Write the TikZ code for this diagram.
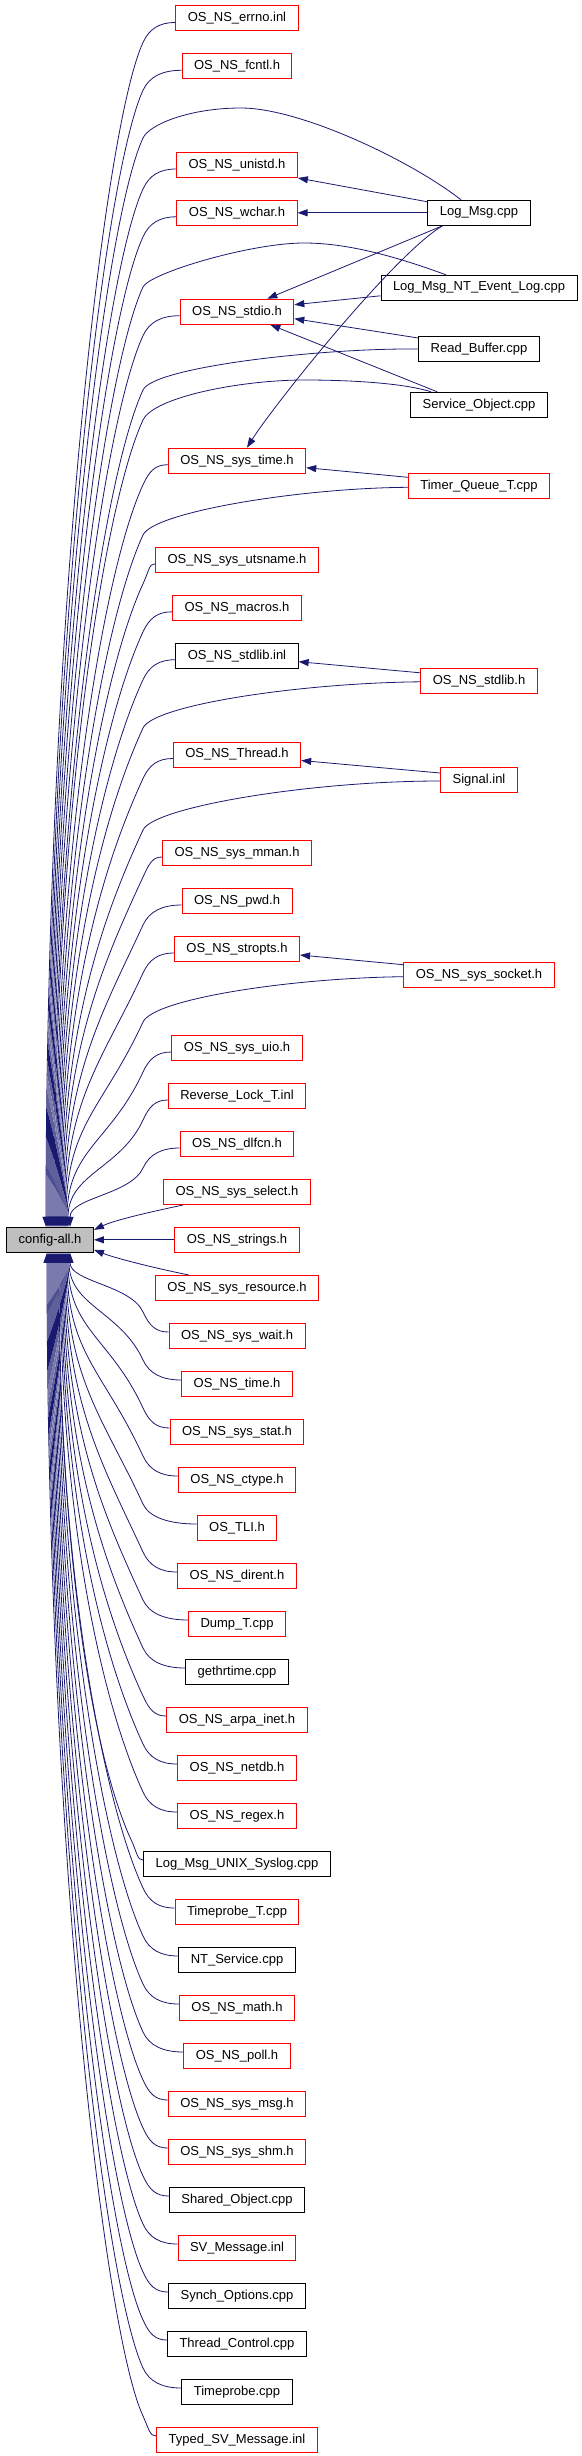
\documentclass[tikz,border=0pt]{standalone}
\usepackage{fontspec}
\setmainfont{Liberation Sans}
\usetikzlibrary{arrows.meta}

\definecolor{linkblue}{HTML}{191970}
\definecolor{boxred}{HTML}{FF0000}
\definecolor{rootgray}{HTML}{BFBFBF}

\tikzset{
  filebox/.style={draw=black, line width=1pt, minimum height=25pt, inner xsep=12pt, inner ysep=0pt,
    font=\fontsize{13}{13}\selectfont},
  docbox/.style={filebox, draw=boxred},
  rootbox/.style={filebox, fill=rootgray},
  incl/.style={draw=linkblue, line width=0.8pt, -{Triangle[length=10pt,width=7pt]}},
}

\begin{document}
\begin{tikzpicture}[x=1pt,y=-1pt]
  \useasboundingbox (0,0) rectangle (581,2456);

  \node[rootbox] (cfg) at (50,1239.8) {config-all.h};

  % headers above config-all.h
  \foreach \n/\yy/\st/\txt/\endx in {
      errno/18.5/docbox/{OS\_NS\_errno.inl}/46,
      fcntl/66.3/docbox/{OS\_NS\_fcntl.h}/47,
      unistd/165/docbox/{OS\_NS\_unistd.h}/49,
      wchar/212.8/docbox/{OS\_NS\_wchar.h}/50,
      stdio/311.7/docbox/{OS\_NS\_stdio.h}/52,
      systime/460.7/docbox/{OS\_NS\_sys\_time.h}/55,
      utsname/559.8/docbox/{OS\_NS\_sys\_utsname.h}/57,
      macros/607.8/docbox/{OS\_NS\_macros.h}/58,
      stdlibinl/655.7/filebox/{OS\_NS\_stdlib.inl}/59,
      thread/754.5/docbox/{OS\_NS\_Thread.h}/61,
      mman/853/docbox/{OS\_NS\_sys\_mman.h}/63,
      pwd/901/docbox/{OS\_NS\_pwd.h}/64,
      stropts/949/docbox/{OS\_NS\_stropts.h}/65,
      uio/1048/docbox/{OS\_NS\_sys\_uio.h}/67,
      revlock/1096/docbox/{Reverse\_Lock\_T.inl}/68,
      dlfcn/1144/docbox/{OS\_NS\_dlfcn.h}/70}{
    \node[\st] (\n) at (237,\yy) {\txt};
    \path (\n.west); \pgfgetlastxy{\wx}{\wy}
    \pgfmathsetmacro\ax{\wx}
    \pgfmathsetmacro\kx{min(143,\ax-12)}
    \pgfmathsetmacro\ky{\yy+24}
    \pgfmathsetmacro\half{0.5*(1227-\ky)}
    \pgfmathsetmacro\tanl{min(95,\half)}
    \pgfmathsetmacro\shiftx{\endx-50}
    \draw[incl] ([yshift=-4pt]\n.west) .. controls +({-0.5*(\ax-\kx)},0) and ({\kx+6.3},{\ky-13.7}) .. (\kx,\ky)
      .. controls ({\kx-0.42*\tanl},{\ky+0.91*\tanl}) and (\endx,{1227-\half}) .. ([xshift=\shiftx pt]cfg.north);
  }

  % headers below config-all.h
  \foreach \n/\yy/\st/\txt [count=\i] in {
      syswait/1336/docbox/{OS\_NS\_sys\_wait.h},
      nstime/1384/docbox/{OS\_NS\_time.h},
      sysstat/1432/docbox/{OS\_NS\_sys\_stat.h},
      ctype/1480/docbox/{OS\_NS\_ctype.h},
      tli/1528/docbox/{OS\_TLI.h},
      dirent/1576/docbox/{OS\_NS\_dirent.h},
      dumpt/1624/docbox/{Dump\_T.cpp},
      gethrtime/1672/filebox/{gethrtime.cpp},
      arpainet/1720/docbox/{OS\_NS\_arpa\_inet.h},
      netdb/1768/docbox/{OS\_NS\_netdb.h},
      regex/1816/docbox/{OS\_NS\_regex.h},
      syslog/1864/filebox/{Log\_Msg\_UNIX\_Syslog.cpp},
      tprobet/1912/docbox/{Timeprobe\_T.cpp},
      ntservice/1960/filebox/{NT\_Service.cpp},
      math/2008/docbox/{OS\_NS\_math.h},
      poll/2056/docbox/{OS\_NS\_poll.h},
      sysmsg/2104/docbox/{OS\_NS\_sys\_msg.h},
      sysshm/2152/docbox/{OS\_NS\_sys\_shm.h},
      sharedobj/2200/filebox/{Shared\_Object.cpp},
      svmsg/2248/docbox/{SV\_Message.inl},
      synchopt/2296/filebox/{Synch\_Options.cpp},
      threadctl/2344/filebox/{Thread\_Control.cpp},
      tprobe/2392/filebox/{Timeprobe.cpp},
      typedsv/2440/docbox/{Typed\_SV\_Message.inl}}{
    \node[\st] (\n) at (237,\yy) {\txt};
    \path (\n.west); \pgfgetlastxy{\wx}{\wy}
    \pgfmathsetmacro\ax{\wx}
    \pgfmathsetmacro\kx{min(143,\ax-12)}
    \pgfmathsetmacro\ky{\yy-24}
    \pgfmathsetmacro\half{0.5*(\ky-1252)}
    \pgfmathsetmacro\tanl{min(95,\half)}
    \pgfmathsetmacro\endx{71-\i}
    \pgfmathsetmacro\shiftx{\endx-50}
    \draw[incl] ([yshift=4pt]\n.west) .. controls +({-0.5*(\ax-\kx)},0) and ({\kx+6.3},{\ky+13.7}) .. (\kx,\ky)
      .. controls ({\kx-0.42*\tanl},{\ky-0.91*\tanl}) and (\endx,{1252+\half}) .. ([xshift=\shiftx pt]cfg.south);
  }

  % the three next to config-all.h
  \node[docbox] (select) at (237,1192) {OS\_NS\_sys\_select.h};
  \node[docbox] (strings) at (237,1239.8) {OS\_NS\_strings.h};
  \node[docbox] (resource) at (237,1288) {OS\_NS\_sys\_resource.h};
  \draw[incl] ([xshift=20pt]select.south west) .. controls (150,1212) and (115,1220) .. ([yshift=-3pt]cfg.north east);
  \draw[incl] (strings) -- (cfg);
  \draw[incl] ([xshift=34pt]resource.north west) .. controls (150,1267) and (115,1258) .. ([yshift=3pt]cfg.south east);

  % sources on the right
  \node[filebox] (logmsg) at (479,212.8) {Log\_Msg.cpp};
  \node[filebox] (ntlog) at (479,287.8) {Log\_Msg\_NT\_Event\_Log.cpp};
  \node[filebox] (readbuf) at (479,349) {Read\_Buffer.cpp};
  \node[filebox] (servobj) at (479,404.8) {Service\_Object.cpp};
  \node[docbox] (timerq) at (479,486.3) {Timer\_Queue\_T.cpp};
  \node[docbox] (stdlibh) at (479,680.8) {OS\_NS\_stdlib.h};
  \node[docbox] (signal) at (479,780) {Signal.inl};
  \node[docbox] (socket) at (479,974.7) {OS\_NS\_sys\_socket.h};

  \draw[incl] ([yshift=-2pt]logmsg.north west) -- (unistd.south east);
  \draw[incl] (logmsg) -- (wchar);
  \draw[incl] ([xshift=15pt]logmsg.south west) -- ([xshift=-27pt]stdio.north east);
  \draw[incl] ([xshift=15pt]logmsg.south west) .. controls +(-50,30) and +(25,-40) .. ([xshift=10pt]systime.north);
  \draw[incl] ([yshift=-8pt]ntlog.west) -- ([yshift=7pt]stdio.east);
  \draw[incl] ([yshift=-2pt]readbuf.north west) -- ([yshift=6pt]stdio.south east);
  \draw[incl] ([xshift=27pt]servobj.north west) -- ([xshift=-24pt]stdio.south east);
  \draw[incl] ([yshift=9pt]timerq.west) -- ([yshift=-7pt]systime.east);
  \draw[incl] ([yshift=8pt]stdlibh.west) -- ([yshift=-6pt]stdlibinl.east);
  \draw[incl] ([yshift=7pt]signal.west) -- ([yshift=-6pt]thread.east);
  \draw[incl] ([yshift=10pt]socket.west) -- ([yshift=-6pt]stropts.east);

  % long way round to config-all.h
  \draw[incl] ([xshift=-18pt]logmsg.north) .. controls (410,160) and (300,108) .. (241,108)
    .. controls (190,108) and (149.3,124.3) .. (143,138)
    .. controls (103.1,224.5) and (48,682.5) .. ([xshift=-2pt]cfg.north);
  \draw[incl] ([xshift=-33pt]ntlog.north) .. controls (400,258) and (350,243) .. (304,243)
    .. controls (250,243) and (149.3,273.3) .. (143,287)
    .. controls (103.1,373.5) and (51,757) .. ([xshift=1pt]cfg.north);
  \draw[incl] (readbuf.west) .. controls (320,348) and (153.5,367) .. (143,390)
    .. controls (103.1,476.5) and (53,808.5) .. ([xshift=3pt]cfg.north);
  \draw[incl] ([xshift=-48pt]servobj.north) .. controls (400,382) and (340,380) .. (304.5,380)
    .. controls (240,380) and (153.5,397.3) .. (143,420)
    .. controls (103.1,506.5) and (54,823.5) .. ([xshift=4pt]cfg.north);
  \draw[incl] ([yshift=-1pt]timerq.west) .. controls (300,488) and (153.5,512) .. (143,535)
    .. controls (103.1,621.5) and (56,881) .. ([xshift=6pt]cfg.north);
  \draw[incl] ([yshift=-1pt]stdlibh.west) .. controls (300,683) and (153.5,705) .. (143,728)
    .. controls (103.1,814.5) and (60,977.5) .. ([xshift=10pt]cfg.north);
  \draw[incl] ([yshift=-1pt]signal.west) .. controls (310,781) and (153.5,807) .. (143,830)
    .. controls (103.1,916.5) and (62,1028.5) .. ([xshift=12pt]cfg.north);
  \draw[incl] ([yshift=-2pt]socket.west) .. controls (290,978) and (153.5,999) .. (143,1022)
    .. controls (103.1,1108.5) and (66,1124.5) .. ([xshift=16pt]cfg.north);
\end{tikzpicture}
\end{document}
